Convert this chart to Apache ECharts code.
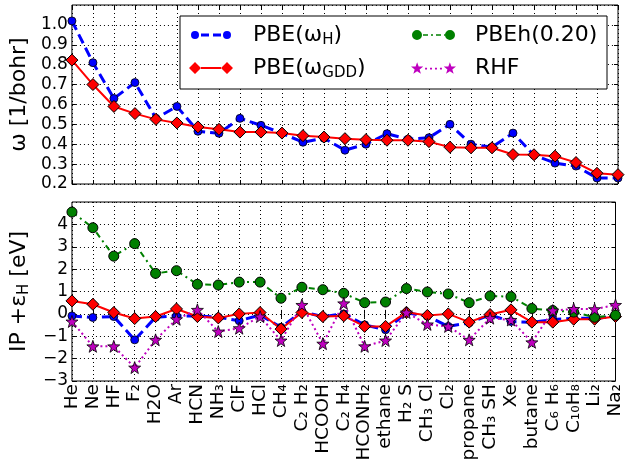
<!DOCTYPE html>
<html>
<head>
<meta charset="utf-8">
<script src="https://cdn.jsdelivr.net/npm/echarts@6/dist/echarts.min.js"></script>
<style>
  html, body { margin: 0; padding: 0; background: #fff; }
  #chart { width: 625px; height: 466px; }
</style>
</head>
<body>
<div id="chart"></div>
<script>
// molecules along the x axis
var categories = ['He', 'Ne', 'HF', 'F₂', 'H2O', 'Ar', 'HCN', 'NH₃', 'ClF', 'HCl', 'CH₄', 'C₂ H₂', 'HCOOH',
  'C₂ H₄', 'HCONH₂', 'ethane', 'H₂ S', 'CH₃ Cl', 'Cl₂', 'propane', 'CH₃ SH', 'Xe', 'butane', 'C₆ H₆',
  'C₁₀H₈', 'Li₂', 'Na₂'];

// top panel: omega [1/bohr]
var omegaH = [1.02, 0.81, 0.63, 0.71, 0.53, 0.59, 0.465, 0.455, 0.53, 0.495, 0.455, 0.41, 0.43,
  0.37, 0.40, 0.453, 0.425, 0.433, 0.50, 0.40, 0.385, 0.456, 0.345, 0.305, 0.29, 0.23, 0.23];
var omegaGDD = [0.823, 0.70, 0.59, 0.554, 0.525, 0.507, 0.487, 0.475, 0.461, 0.461, 0.456, 0.443, 0.436,
  0.428, 0.423, 0.42, 0.42, 0.413, 0.385, 0.382, 0.382, 0.348, 0.347, 0.34, 0.308, 0.254, 0.247];

// bottom panel: IP + eps_H [eV]
var errH = [-0.09, -0.16, -0.12, -1.16, -0.15, -0.09, -0.09, -0.15, -0.31, -0.05, -0.6, 0.1, -0.12,
  0.0, -0.49, -0.71, 0.05, -0.1, -0.56, -0.4, -0.05, -0.34, -0.38, -0.25, -0.2, -0.2, -0.12];
var errGDD = [0.58, 0.43, 0.06, -0.21, -0.12, 0.22, -0.12, -0.18, 0.0, 0.06, -0.68, 0.06, -0.12,
  -0.09, -0.56, -0.56, 0.07, -0.07, 0.0, -0.37, -0.03, 0.18, -0.37, -0.37, -0.24, -0.24, -0.12];
var errPBEh = [4.55, 3.85, 2.58, 3.14, 1.81, 1.93, 1.32, 1.29, 1.42, 1.42, 0.70, 1.19, 1.08,
  0.92, 0.50, 0.53, 1.13, 0.98, 0.89, 0.50, 0.80, 0.77, 0.24, 0.15, 0.08, -0.15, -0.06];
var errRHF = [-0.34, -1.45, -1.45, -2.4, -1.16, -0.24, 0.18, -0.79, -0.64, -0.12, -1.19, 0.4, -1.33,
  0.47, -1.45, -1.19, 0.06, -0.47, -0.56, -1.16, -0.19, -0.27, -1.27, 0.15, 0.22, 0.21, 0.4];

var FONT = 'DejaVu Sans';

// small path helpers for markers / legend icons
function circle(cx, cy, r) {
  return 'M' + (cx - r) + ',' + cy + ' A' + r + ',' + r + ' 0 1,0 ' + (cx + r) + ',' + cy +
    ' A' + r + ',' + r + ' 0 1,0 ' + (cx - r) + ',' + cy + ' Z ';
}
function diamond(cx, cy, r) {
  return 'M' + (cx - r) + ',' + cy + ' L' + cx + ',' + (cy - r) + ' L' + (cx + r) + ',' + cy +
    ' L' + cx + ',' + (cy + r) + ' Z ';
}
function bar(x0, x1, cy, h) {
  return 'M' + x0 + ',' + (cy - h / 2) + ' L' + x1 + ',' + (cy - h / 2) + ' L' + x1 + ',' + (cy + h / 2) +
    ' L' + x0 + ',' + (cy + h / 2) + ' Z ';
}
function starPath(cx, cy, r) {
  var s = '', ri = r * 0.4;
  for (var i = 0; i < 10; i++) {
    var rr = i % 2 ? ri : r, a = -Math.PI / 2 + i * Math.PI / 5;
    s += (i ? ' L' : 'M') + (cx + rr * Math.cos(a)).toFixed(2) + ',' + (cy + rr * Math.sin(a)).toFixed(2);
  }
  return s + ' Z ';
}

var star = 'path://' + starPath(0, 0, 10);

var iconH = 'path://' + circle(4, 4, 4) + bar(10, 18, 4, 3) + bar(22, 30, 4, 3) + circle(36, 4, 4);
var iconGDD = 'path://' + diamond(6, 6, 6) + bar(12, 32, 6, 2) + diamond(38, 6, 6);
var iconPBEh = 'path://' + circle(5, 5, 5) + bar(11, 16, 5, 1.5) + bar(19, 21, 5, 1.5) + bar(24, 29, 5, 1.5) +
  bar(32, 33, 5, 1.5) + circle(38, 5, 5);
var iconRHF = 'path://' + starPath(6, 6.5, 6.5) + bar(14, 16, 6.5, 1.6) + bar(19, 21, 6.5, 1.6) +
  bar(24, 26, 6.5, 1.6) + bar(29, 31, 6.5, 1.6) + starPath(39, 6.5, 6.5);

var legendNames = {
  'PBE(ωH)': '{t|PBE(ω}{s|H}{t|)}',
  'PBE(ωGDD)': '{t|PBE(ω}{s|GDD}{t|)}',
  'PBEh(0.20)': '{t|PBEh(0.20)}',
  'RHF': '{t|RHF}'
};
var richText = {
  t: { fontFamily: FONT, fontSize: 22, lineHeight: 26, color: '#000' },
  s: { fontFamily: FONT, fontSize: 15, lineHeight: 14, verticalAlign: 'bottom', color: '#000' }
};

function legendItem(name, icon, left, top, w, h, pad) {
  return {
    left: left, top: top, padding: 0, orient: 'vertical', itemWidth: w, itemHeight: h, z: 5,
    data: [{ name: name, icon: icon }],
    itemStyle: { borderWidth: 0 },
    formatter: function (n) { return legendNames[n]; },
    textStyle: { padding: [0, 0, 0, pad], rich: richText }
  };
}

var gridLine = { show: true, lineStyle: { color: '#000', type: [1, 3], width: 1 } };
var tick = { show: true, inside: true, length: 4, lineStyle: { color: '#000' } };
var labelStyle = { fontFamily: FONT, fontSize: 17, color: '#000' };

function xAxisFor(gridIndex, pos, labels) {
  return {
    type: 'category', gridIndex: gridIndex, position: pos, data: categories, boundaryGap: false,
    axisLine: { show: false }, axisTick: Object.assign({ interval: 0 }, tick),
    splitLine: pos === 'bottom' ? Object.assign({ interval: 0 }, gridLine) : { show: false },
    axisLabel: labels ? { interval: 0, rotate: 90, margin: 3, fontFamily: FONT, fontSize: 18.5, color: '#000' } : { show: false }
  };
}

function yAxisFor(gridIndex, pos, min, max, step, fmt, name) {
  var ax = {
    type: 'value', gridIndex: gridIndex, position: pos, min: min, max: max, interval: step,
    axisLine: { show: false }, axisTick: tick,
    splitLine: pos === 'left' ? gridLine : { show: false },
    axisLabel: pos === 'left' ? Object.assign({ formatter: fmt, showMaxLabel: false, margin: 4 }, labelStyle) : { show: false }
  };
  if (name) {
    ax.name = name;
    ax.nameLocation = 'middle';
    ax.nameGap = 33;
    ax.nameTextStyle = { rich: richText };
  }
  return ax;
}

var chart = echarts.init(document.getElementById('chart'), null, { renderer: 'canvas' });

var option = {
  backgroundColor: '#fff',
  animation: false,
  grid: [
    { left: 64, right: 7, top: 5, height: 179, show: true, borderColor: '#000', borderWidth: 1 },
    { left: 64, right: 7, top: 202, height: 179, show: true, borderColor: '#000', borderWidth: 1 }
  ],
  xAxis: [
    xAxisFor(0, 'bottom', false),
    xAxisFor(1, 'bottom', true),
    xAxisFor(0, 'top', false),
    xAxisFor(1, 'top', false)
  ],
  yAxis: [
    yAxisFor(0, 'left', 0.2, 1.1, 0.1, function (v) { return v.toFixed(1); }, '{t|ω [1/bohr]}'),
    yAxisFor(1, 'left', -3, 5, 1, function (v) { return String(v).replace('-', '\u2212'); },
      '{t|IP +ε}{s|H}{t| [eV]}'),
    yAxisFor(0, 'right', 0.2, 1.1, 0.1),
    yAxisFor(1, 'right', -3, 5, 1)
  ],
  graphic: [{
    type: 'rect', z: 3,
    shape: { x: 180, y: 16, width: 427, height: 73 },
    style: { fill: '#fff', stroke: '#000', lineWidth: 1 }
  }],
  legend: [
    legendItem('PBE(ωH)', iconH, 191, 24, 40, 8, 17),
    legendItem('PBE(ωGDD)', iconGDD, 189, 57, 44, 12, 15),
    legendItem('PBEh(0.20)', iconPBEh, 412, 24, 43, 10, 15),
    legendItem('RHF', iconRHF, 411, 57, 45, 13, 14)
  ],
  series: [
    {
      name: 'PBE(ωH)', type: 'line', xAxisIndex: 0, yAxisIndex: 0, data: omegaH,
      symbol: 'circle', symbolSize: 8,
      lineStyle: { color: '#0000ff', width: 3, type: [10, 5] },
      itemStyle: { color: '#0000ff', borderColor: '#000', borderWidth: 0.8 }
    },
    {
      name: 'PBE(ωGDD)', type: 'line', xAxisIndex: 0, yAxisIndex: 0, data: omegaGDD,
      symbol: 'diamond', symbolSize: 12,
      lineStyle: { color: '#ff0000', width: 2 },
      itemStyle: { color: '#ff0000', borderColor: '#000', borderWidth: 1 }
    },
    {
      name: 'PBE(ωH)', type: 'line', xAxisIndex: 1, yAxisIndex: 1, data: errH,
      symbol: 'circle', symbolSize: 8,
      lineStyle: { color: '#0000ff', width: 3, type: [10, 5] },
      itemStyle: { color: '#0000ff', borderColor: '#000', borderWidth: 0.8 }
    },
    {
      name: 'PBE(ωGDD)', type: 'line', xAxisIndex: 1, yAxisIndex: 1, data: errGDD,
      symbol: 'diamond', symbolSize: 12,
      lineStyle: { color: '#ff0000', width: 2 },
      itemStyle: { color: '#ff0000', borderColor: '#000', borderWidth: 1 }
    },
    {
      name: 'PBEh(0.20)', type: 'line', xAxisIndex: 1, yAxisIndex: 1, data: errPBEh,
      symbol: 'circle', symbolSize: 10,
      lineStyle: { color: '#008000', width: 2, type: [6, 4, 2, 4] },
      itemStyle: { color: '#008000', borderColor: '#000', borderWidth: 1 }
    },
    {
      name: 'RHF', type: 'line', xAxisIndex: 1, yAxisIndex: 1, data: errRHF,
      symbol: star, symbolSize: 12,
      lineStyle: { color: '#bf00bf', width: 2, type: [2, 3] },
      itemStyle: { color: '#bf00bf', borderColor: '#000', borderWidth: 0.8 }
    }
  ]
};

chart.setOption(option);
window.addEventListener('resize', function () { chart.resize(); });
</script>
</body>
</html>
